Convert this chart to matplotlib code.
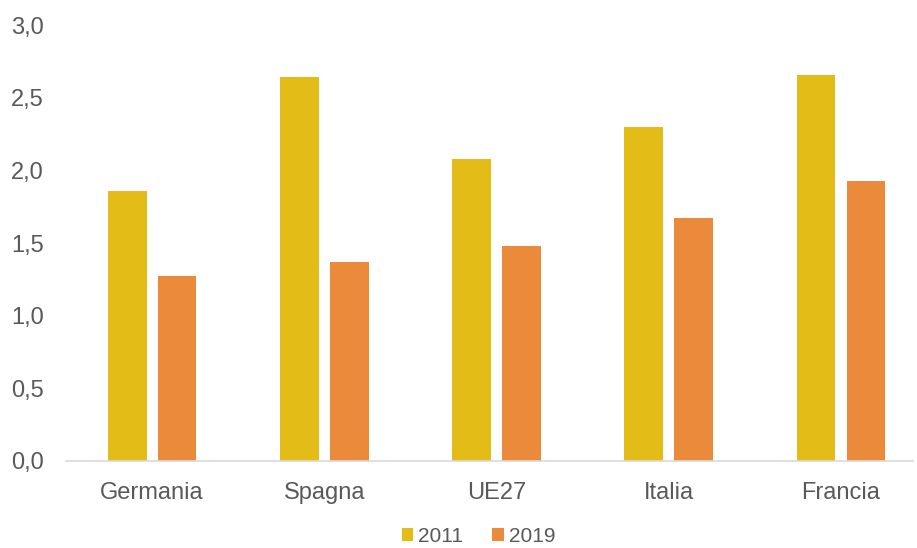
import numpy as np
import matplotlib.pyplot as plt

paesi = ['Germania', 'Spagna', 'UE27', 'Italia', 'Francia']
anni = ['2011', '2019']
valori_2011 = [1.86, 2.64, 2.08, 2.30, 2.66]
valori_2019 = [1.27, 1.37, 1.48, 1.67, 1.93]

colori = ['#E3BC17', '#EA8A3A']
grigio = '#595959'

plt.rcParams['font.family'] = ['Liberation Sans', 'DejaVu Sans']

fig = plt.figure(figsize=(9.17, 5.48), dpi=100)
ax = fig.add_axes([0.072, 0.159, 0.924, 0.795])

x = np.arange(len(paesi))
w = 0.225
ax.bar(x - 0.145, valori_2011, w, color=colori[0], label=anni[0])
ax.bar(x + 0.145, valori_2019, w, color=colori[1], label=anni[1])

ax.set_xlim(-0.5, 4.42)
ax.set_ylim(0, 3.0)
ax.set_yticks(np.arange(0, 3.01, 0.5))
ax.set_yticklabels([f'{v:.1f}'.replace('.', ',') for v in np.arange(0, 3.01, 0.5)])
ax.set_xticks(x)
ax.set_xticklabels(paesi)

for s in ['top', 'right', 'left']:
    ax.spines[s].set_visible(False)
ax.spines['bottom'].set_color('#D9D9D9')
ax.spines['bottom'].set_linewidth(1.2)
ax.tick_params(axis='both', length=0, labelsize=17, colors=grigio)
ax.tick_params(axis='y', pad=16)
ax.tick_params(axis='x', pad=15)

ax.legend(loc='upper center', bbox_to_anchor=(0.487, -0.127), ncol=2, frameon=False,
          fontsize=15, labelcolor=grigio, handlelength=0.55, handleheight=0.55,
          handletextpad=0.25, columnspacing=1.4, borderaxespad=0.3, borderpad=0.2)

fig.savefig('out.png', dpi=100)
